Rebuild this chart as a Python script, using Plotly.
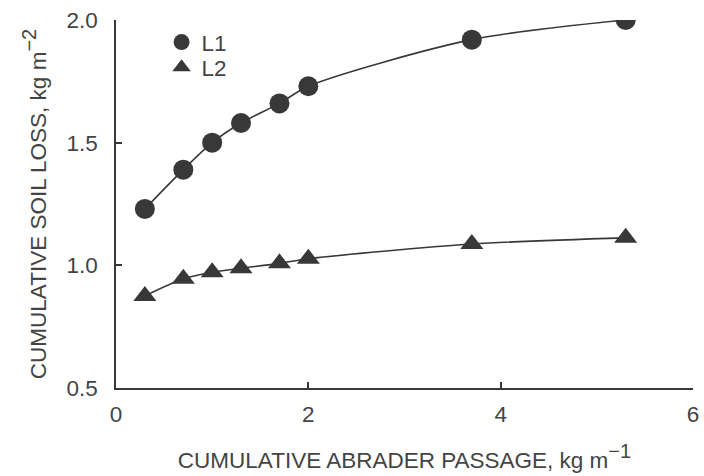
import plotly.graph_objects as go

x_vals = [0.3, 0.7, 1.0, 1.3, 1.7, 2.0, 3.7, 5.3]
l1_vals = [1.23, 1.39, 1.50, 1.58, 1.66, 1.73, 1.92, 2.00]
l2_vals = [0.875, 0.945, 0.972, 0.988, 1.008, 1.027, 1.087, 1.112]
series_names = ["L1", "L2"]
x_ticks = [0, 2, 4, 6]
y_ticks = [0.5, 1.0, 1.5, 2.0]
y_tick_text = ["0.5", "1.0", "1.5", "2.0"]

ink = "#383838"
txt = "#444"
font_fam = "Liberation Sans, Arial, sans-serif"
fs = 22.5

fig = go.Figure()
for i, (name, vals, sym) in enumerate([(series_names[0], l1_vals, "circle"), (series_names[1], l2_vals, "triangle-up")]):
    fig.add_trace(go.Scatter(
        x=x_vals, y=vals, mode="lines+markers", showlegend=False,
        line=dict(color=ink, width=1.6, shape="spline", smoothing=0.8),
        marker=dict(symbol=sym, size=20, color=ink, line=dict(width=0)),
    ))
    fig.add_trace(go.Scatter(
        x=[None], y=[None], mode="markers", name=name,
        legend="legend" if i == 0 else "legend2",
        marker=dict(symbol=sym, size=20, color=ink, line=dict(width=0)),
    ))

sup_style = '<span style="font-size:%dpx">' % 20
leg_common = dict(xanchor="left", yanchor="top", bgcolor="rgba(0,0,0,0)",
                  font=dict(size=fs, color=txt, family=font_fam),
                  itemsizing="trace", tracegroupgap=0)

fig.update_layout(
    width=704, height=476,
    margin=dict(l=116, r=5, t=20, b=88),
    paper_bgcolor="white", plot_bgcolor="white",
    font=dict(family=font_fam, size=fs, color=txt),
    legend=dict(x=0.079, y=0.9973, **leg_common),
    legend2=dict(x=0.079, y=0.9293, **leg_common),
    xaxis=dict(range=[0, 6], tickvals=x_ticks, ticks="inside", ticklen=6,
               tickwidth=1.5, tickcolor=ink, showline=True, linecolor=ink,
               linewidth=1.5, showgrid=False, zeroline=False,
               ticklabelstandoff=5, ticklabeloverflow="allow",
               tickfont=dict(size=fs, family=font_fam, color=txt),
               title=dict(text="CUMULATIVE ABRADER PASSAGE, kg m<sup>" + sup_style + "\u22121</span></sup>",
                          standoff=26, font=dict(size=fs, family=font_fam, color=txt))),
    yaxis=dict(range=[0.5, 2.0], tickvals=y_ticks, ticktext=y_tick_text,
               ticks="inside", ticklen=6, tickwidth=1.5, tickcolor=ink,
               showline=True, linecolor=ink, linewidth=1.5, showgrid=False,
               zeroline=False, ticklabelstandoff=12,
               tickfont=dict(size=fs, family=font_fam, color=txt),
               title=dict(text="CUMULATIVE SOIL LOSS, kg m<sup>" + sup_style + "\u22122</span></sup>",
                          standoff=14, font=dict(size=fs, family=font_fam, color=txt))),
)

fig.write_html("out.html")
